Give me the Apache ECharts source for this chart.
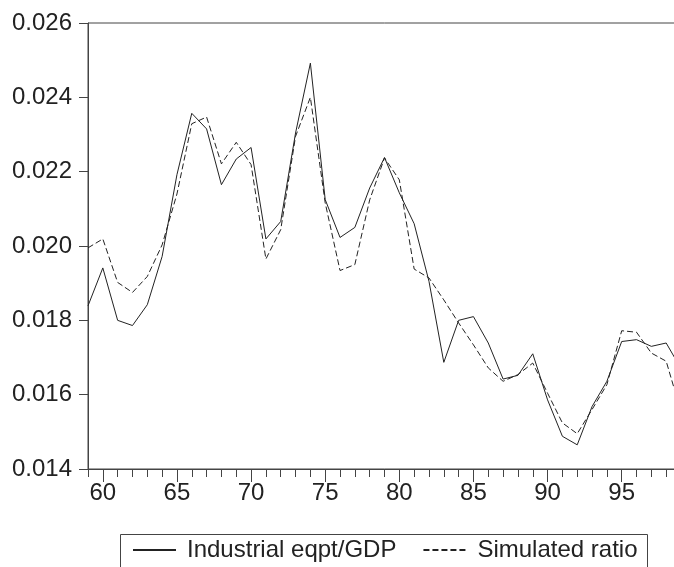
<!DOCTYPE html>
<html>
<head>
<meta charset="utf-8">
<script src="https://cdn.jsdelivr.net/npm/echarts@6.0.0/dist/echarts.min.js"></script>
<style>
  html, body { margin: 0; padding: 0; background: #fff; overflow: hidden; }
  /* a bit wider than the window: the plot is cut off at the right like the original */
  #main { width: 681px; height: 567px; }
</style>
</head>
<body>
<div id="main"></div>
<script>
  // years 1959..1999 (99 is only partly visible at the right edge)
  var years = ['59','60','61','62','63','64','65','66','67','68','69','70','71','72','73','74','75','76','77','78',
               '79','80','81','82','83','84','85','86','87','88','89','90','91','92','93','94','95','96','97','98','99'];

  // Industrial eqpt/GDP (solid)
  var actual = [0.01839, 0.01941, 0.01800, 0.01786, 0.01842, 0.01972, 0.02192, 0.02357, 0.02315, 0.02165,
                0.02234, 0.02265, 0.02019, 0.02066, 0.02304, 0.02492, 0.02125, 0.02023, 0.02050, 0.02156,
                0.02238, 0.02143, 0.02060, 0.01905, 0.01687, 0.01800, 0.01810, 0.01739, 0.01642, 0.01652,
                0.01710, 0.01586, 0.01488, 0.01465, 0.01568, 0.01636, 0.01743, 0.01748, 0.01730, 0.01739,
                0.01670];

  // Simulated ratio (dashed)
  var simulated = [0.01995, 0.02019, 0.01902, 0.01875, 0.01918, 0.02003, 0.02140, 0.02329, 0.02347, 0.02221,
                   0.02279, 0.02219, 0.01965, 0.02044, 0.02295, 0.02400, 0.02116, 0.01934, 0.01950, 0.02124,
                   0.02237, 0.02178, 0.01938, 0.01914, 0.01855, 0.01793, 0.01734, 0.01672, 0.01636, 0.01654,
                   0.01685, 0.01604, 0.01524, 0.01495, 0.01560, 0.01627, 0.01772, 0.01768, 0.01712, 0.01690,
                   0.01554];

  var seriesNames = ['Industrial eqpt/GDP', 'Simulated ratio'];

  var yMin = 0.014, yMax = 0.026, yStep = 0.002;

  var font = 'Liberation Sans, Arial, Helvetica, sans-serif';
  var ink = '#222';
  var axisCol = '#444';

  function isMajor(i, v) {
    return (+v) % 5 === 0;
  }

  var chart = echarts.init(document.getElementById('main'), null, { renderer: 'canvas' });
  chart.setOption({
    animation: false,
    backgroundColor: '#fff',
    grid: {
      left: 88,
      top: 23,
      right: 0,
      bottom: 98,
      show: true,
      borderColor: axisCol,
      borderWidth: 1
    },
    legend: {
      left: 132,
      top: 538,
      padding: 0,
      itemWidth: 43,
      itemHeight: 14,
      itemGap: 26,
      data: seriesNames,
      // hide the marker dot, keep just the line
      itemStyle: { color: 'rgba(0,0,0,0)', borderWidth: 0, opacity: 0 },
      textStyle: { fontFamily: font, fontSize: 24, color: ink, padding: [0, 0, 0, 6] }
    },
    graphic: [{
      // legend frame, runs off the bottom of the picture
      type: 'rect',
      shape: { x: 120.5, y: 534.5, width: 527, height: 60 },
      style: { fill: null, stroke: axisCol, lineWidth: 1 },
      silent: true
    }],
    xAxis: [
      {
        // every year: short ticks, no labels
        type: 'category',
        data: years,
        boundaryGap: false,
        position: 'bottom',
        axisLine: { lineStyle: { color: axisCol, width: 1 } },
        axisTick: { show: true, inside: false, length: 8, interval: 0, lineStyle: { color: axisCol } },
        axisLabel: { show: false },
        splitLine: { show: false }
      },
      {
        // every 5 years: long ticks and labels
        type: 'category',
        data: years,
        boundaryGap: false,
        position: 'bottom',
        axisLine: { show: false },
        axisTick: { show: true, length: 13, interval: isMajor, lineStyle: { color: axisCol } },
        axisLabel: { show: true, interval: isMajor, margin: 12, fontFamily: font, fontSize: 24, color: ink },
        splitLine: { show: false }
      }
    ],
    yAxis: {
      type: 'value',
      min: yMin,
      max: yMax,
      interval: yStep,
      axisLine: { show: true, lineStyle: { color: axisCol, width: 1 } },
      axisTick: { show: true, length: 9, lineStyle: { color: axisCol } },
      axisLabel: {
        margin: 16,
        fontFamily: font,
        fontSize: 24,
        color: ink,
        padding: [0, 0, 8, 0],
        formatter: function (v) { return v.toFixed(3); }
      },
      splitLine: { show: false }
    },
    series: [
      {
        name: seriesNames[0],
        type: 'line',
        data: actual,
        symbol: 'none',
        clip: true,
        lineStyle: { color: ink, width: 1, type: 'solid' },
        itemStyle: { color: ink }
      },
      {
        name: seriesNames[1],
        type: 'line',
        data: simulated,
        symbol: 'none',
        clip: true,
        lineStyle: { color: ink, width: 1, type: [6, 3] },
        itemStyle: { color: ink }
      }
    ]
  });
</script>
</body>
</html>
